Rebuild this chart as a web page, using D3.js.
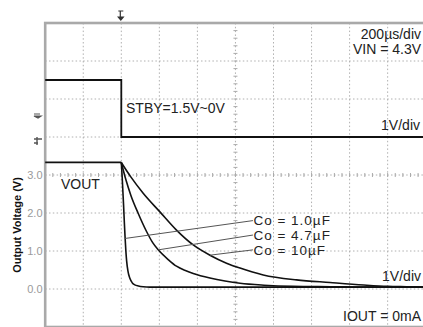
<!DOCTYPE html>
<html>
<head>
<meta charset="utf-8">
<script src="https://cdn.jsdelivr.net/npm/d3@7"></script>
<style>
  body { margin: 0; background: #fff; }
  svg text { font-family: "Liberation Sans", Arial, sans-serif; }
</style>
</head>
<body>
<div id="scope"></div>
<script>
// values (time in µs from the STBY edge, volts)
var stbyT = [-400, 0, 0, 1600];
var stbyV = [1.5, 1.5, 0, 0];

var voutHoldT = [-400, 0];
var voutHoldV = [3.33, 3.33];

var co1T = [0, 4, 8, 12, 16, 20, 24, 28, 35, 45, 58, 71, 90, 115, 150, 1600];
var co1V = [3.33, 3.0, 2.6, 2.2, 1.75, 1.35, 1.0, 0.74, 0.47, 0.28, 0.16, 0.11, 0.08, 0.06, 0.05, 0.05];

var co47T = [0, 25, 50, 88, 132, 165, 194, 250, 290, 340, 378, 466, 545, 624, 750, 900, 1100, 1300, 1600];
var co47V = [3.33, 2.86, 2.47, 2.0, 1.52, 1.22, 1.03, 0.76, 0.6, 0.48, 0.41, 0.29, 0.21, 0.15, 0.1, 0.07, 0.06, 0.05, 0.05];

var co10T = [0, 50, 115, 203, 290, 378, 466, 553, 624, 746, 921, 1097, 1274, 1400, 1500, 1600];
var co10V = [3.33, 2.95, 2.52, 2.03, 1.55, 1.16, 0.89, 0.68, 0.55, 0.37, 0.24, 0.17, 0.105, 0.07, 0.06, 0.05];

var coLabels = ['Co = 1.0µF', 'Co = 4.7µF', 'Co = 10µF'];
// leader lines: point on curve -> start of label
var leaderFromT = [20, 194, 466];
var leaderFromV = [1.33, 1.03, 0.89];
var leaderToT = [692, 692, 692];
var leaderToV = [1.80, 1.42, 1.03];

var yTicks = [0, 1, 2, 3];
var stbyOffset = 4; // STBY trace sits 4 div above VOUT ground

var width = 423, height = 327;
var svg = d3.select('#scope').append('svg')
  .attr('width', width)
  .attr('height', height);

var x = d3.scaleLinear().domain([-400, 1600]).range([45.2, 425.7]);
var y = d3.scaleLinear().domain([-1, 7]).range([327, 23]);

// grid
var g = svg.append('g');
g.selectAll('.vgrid')
  .data(d3.range(-200, 1600, 200))
  .join('line')
  .attr('x1', d => x(d)).attr('x2', d => x(d))
  .attr('y1', y(7)).attr('y2', y(-1))
  .attr('stroke', '#b0b0b0')
  .attr('stroke-dasharray', '1.5,2.3');
g.selectAll('.hgrid')
  .data(d3.range(0, 7, 1))
  .join('line')
  .attr('x1', x(-400)).attr('x2', x(1600))
  .attr('y1', d => y(d)).attr('y2', d => y(d))
  .attr('stroke', '#b0b0b0')
  .attr('stroke-dasharray', '1.5,2.3');

// minor ticks on centre axes
g.selectAll('.xminor')
  .data(d3.range(-400, 1600, 40))
  .join('line')
  .attr('x1', d => x(d)).attr('x2', d => x(d))
  .attr('y1', y(3) - 2).attr('y2', y(3) + 2)
  .attr('stroke', '#aaa');
g.selectAll('.yminor')
  .data(d3.range(-1, 7, 0.2))
  .join('line')
  .attr('x1', x(600) - 2).attr('x2', x(600) + 2)
  .attr('y1', d => y(d)).attr('y2', d => y(d))
  .attr('stroke', '#aaa');

// frame
svg.append('rect')
  .attr('x', x(-400)).attr('y', y(7))
  .attr('width', x(1600) - x(-400)).attr('height', y(-1) - y(7))
  .attr('fill', 'none')
  .attr('stroke', '#a9a9a9')
  .attr('stroke-width', 2.6);

// y axis labels
svg.append('g')
  .selectAll('text')
  .data(yTicks)
  .join('text')
  .attr('x', 42.5)
  .attr('y', d => y(d))
  .attr('dy', '0.35em')
  .attr('text-anchor', 'end')
  .attr('font-size', 11)
  .attr('fill', '#9a9a9a')
  .text(d => d.toFixed(1));

svg.append('text')
  .attr('transform', 'translate(20.5,' + 225 + ') rotate(-90)')
  .attr('text-anchor', 'middle')
  .attr('font-size', 11)
  .attr('font-weight', 'bold')
  .attr('fill', '#111')
  .text('Output Voltage (V)');

// traces
var line = d3.line().x(d => x(d[0])).y(d => y(d[1]));
var smooth = d3.line().x(d => x(d[0])).y(d => y(d[1])).curve(d3.curveMonotoneX);

svg.append('path')
  .datum(stbyT.map((t, i) => [t, stbyV[i] + stbyOffset]))
  .attr('d', line)
  .attr('fill', 'none').attr('stroke', '#111').attr('stroke-width', 1.8);

svg.append('path')
  .datum(voutHoldT.map((t, i) => [t, voutHoldV[i]]))
  .attr('d', line)
  .attr('fill', 'none').attr('stroke', '#111').attr('stroke-width', 1.8);

[[co1T, co1V], [co47T, co47V], [co10T, co10V]].forEach(function(s) {
  svg.append('path')
    .datum(s[0].map((t, i) => [t, s[1][i]]))
    .attr('d', smooth)
    .attr('fill', 'none').attr('stroke', '#111').attr('stroke-width', 1.6);
});

// leader lines and labels
svg.append('g')
  .selectAll('line')
  .data(coLabels)
  .join('line')
  .attr('x1', (d, i) => x(leaderFromT[i])).attr('y1', (d, i) => y(leaderFromV[i]))
  .attr('x2', (d, i) => x(leaderToT[i])).attr('y2', (d, i) => y(leaderToV[i]))
  .attr('stroke', '#555').attr('stroke-width', 1);

svg.append('g')
  .selectAll('text')
  .data(coLabels)
  .join('text')
  .attr('x', (d, i) => x(leaderToT[i]) + 0.5)
  .attr('y', (d, i) => y(leaderToV[i]))
  .attr('dy', '0.36em')
  .attr('font-size', 13.5)
  .attr('letter-spacing', 1)
  .attr('fill', '#222')
  .text(d => d);

function label(txt, px, py, anchor) {
  svg.append('text')
    .attr('x', px).attr('y', py)
    .attr('text-anchor', anchor || 'start')
    .attr('font-size', 14)
    .attr('fill', '#222')
    .text(txt);
}
label('200µs/div', 421, 39, 'end');
label('VIN = 4.3V', 421, 54, 'end');
label('STBY=1.5V~0V', 126, 113);
label('1V/div', 420, 130, 'end');
label('VOUT', 61, 189);
label('1V/div', 421, 281, 'end');
label('IOUT = 0mA', 421, 321, 'end');

// channel / trigger markers
svg.append('path')
  .attr('d', 'M' + (x(0) - 3) + ',11 h5 M' + (x(0) - 1) + ',11 v6 M' + (x(0) - 3) + ',17 h5 l-2.5,3 z')
  .attr('stroke', '#333').attr('fill', '#333').attr('stroke-width', 1.2);
svg.append('path')
  .attr('d', 'M34,114 h6 M34,116 h4 l3,0 l-3,2 z')
  .attr('stroke', '#555').attr('fill', '#555').attr('stroke-width', 1.2);
svg.append('path')
  .attr('d', 'M34,139 h8 M37,137 v8 M34,143 h4')
  .attr('stroke', '#555').attr('fill', 'none').attr('stroke-width', 1.4);
</script>
</body>
</html>
